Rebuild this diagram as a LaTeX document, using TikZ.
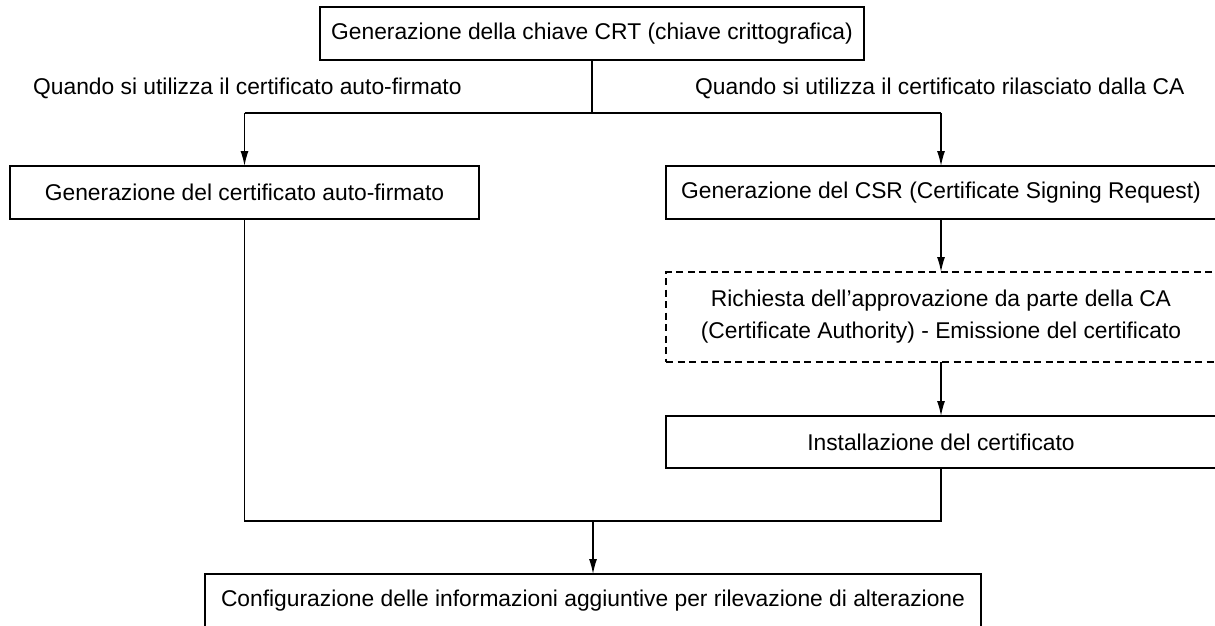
\documentclass[tikz,border=0pt]{standalone}
\usepackage{fontspec}
\setmainfont{Liberation Sans}
\usetikzlibrary{arrows.meta,calc}
\begin{document}
\begin{tikzpicture}[x=1pt,y=-1pt,
  every node/.style={font=\fontsize{22.8}{32}\selectfont, text=black},
  box/.style={draw=black, line width=1.3pt, rectangle, inner sep=0pt, outer sep=0pt, align=center},
  dbox/.style={box, dash pattern=on 7pt off 4.5pt},
  conn/.style={draw=black, line width=1.3pt},
  arr/.style={conn, -{Latex[length=15pt,width=8pt]}},
  lbl/.style={anchor=base west, inner sep=0pt}]
\useasboundingbox (0,0) rectangle (1215,626);
\node[box, minimum width=544pt, minimum height=53pt] (T) at (592,33.5) {Generazione della chiave CRT (chiave crittografica)};
\node[box, minimum width=469pt, minimum height=53pt] (L) at (244.5,192.5) {Generazione del certificato auto-firmato};
\node[box, minimum width=550pt, minimum height=53pt] (R) at (941,192.5) {Generazione del CSR (Certificate Signing Request)};
\node[dbox, minimum width=550pt, minimum height=90pt] (D) at (941,317) {Richiesta dell’approvazione da parte della CA\\(Certificate Authority) - Emissione del certificato};
\node[box, minimum width=550pt, minimum height=52pt] (I) at (941,442) {Installazione del certificato};
\node[box, minimum width=776pt, minimum height=53pt] (B) at (593,600.5) {Configurazione delle informazioni aggiuntive per rilevazione di alterazione};
\node[lbl] (ql) at (33,95) {Quando si utilizza il certificato auto-firmato};
\node[lbl] (qr) at (695,95) {Quando si utilizza il certificato rilasciato dalla CA};
\coordinate (split) at (592,113);
\coordinate (join) at (593,521);
\draw[conn] (T.south) -- (split);
\draw[conn] (L.north |- split) -- (R.north |- split);
\draw[arr] (L.north |- split) -- (L.north);
\draw[arr] (R.north |- split) -- (R.north);
\draw[arr] (R.south) -- (D.north);
\draw[arr] (D.south) -- (I.north);
\draw[conn] (L.south) -- (L.south |- join) -- (I.south |- join) -- (I.south);
\draw[arr] (join) -- (B.north);
\end{tikzpicture}
\end{document}
